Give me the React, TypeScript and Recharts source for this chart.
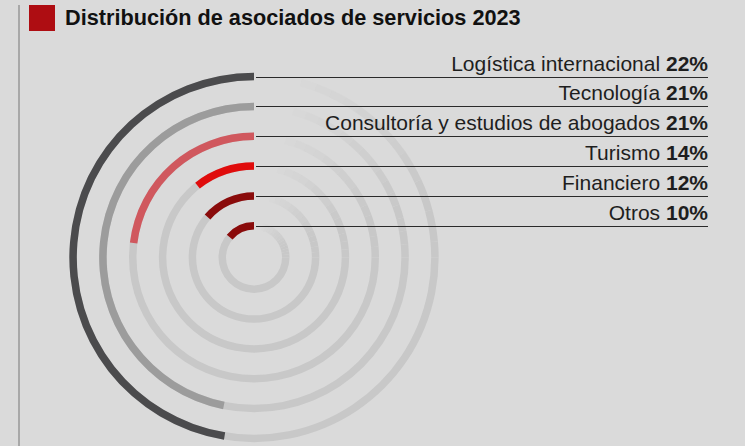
import {
  RadialBarChart, RadialBar, PolarAngleAxis, PolarRadiusAxis,
  Cell, LabelList, Sector
} from 'recharts';

const sectors = [
  'Logística internacional',
  'Tecnología',
  'Consultoría y estudios de abogados',
  'Turismo',
  'Financiero',
  'Otros',
];
const shares = [22, 21, 21, 14, 12, 10];
// how far round the circle each arc is drawn in the original graphic (% of 360°)
const arcDrawn = [47.4, 46.8, 23.1, 10.6, 13.6, 13.9];
const colors = ['#4b4b4d', '#9c9c9c', '#d0585e', '#e00c0c', '#8a0b0b', '#8a0b0b'];

// radius axis runs from the centre outwards, so innermost ring goes first
const data = sectors
  .map((name, i) => ({ name, share: shares[i], arc: arcDrawn[i], color: colors[i] }))
  .reverse();

const TRACK = '#c8c8c8';
const LINE_END = 708;
const FONT = '"Liberation Sans", Arial, Helvetica, sans-serif';

// grey ring (fading out in the upper right quarter) with the coloured arc on top
const renderRing = (p: any) => {
  const base = {
    cx: p.cx, cy: p.cy,
    innerRadius: p.innerRadius, outerRadius: p.outerRadius,
  };
  const pieces = [];
  for (let a = 0; a < 90; a += 5) {
    const op = Math.max(0, Math.min(1, (78 - (a + 2.5)) / 58));
    if (op > 0) {
      pieces.push(
        <Sector key={a} {...base} startAngle={a} endAngle={a + 5} fill={TRACK} fillOpacity={op} />
      );
    }
  }
  return (
    <g>
      <Sector {...base} startAngle={90} endAngle={360} fill={TRACK} />
      {pieces}
      <Sector {...base} startAngle={p.startAngle} endAngle={p.endAngle} fill={p.fill} />
    </g>
  );
};

const renderRowLabel = (p: any) => {
  const vb = p.viewBox;
  if (!vb) return null;
  const i = sectors.indexOf(p.value);
  const y = Math.round(vb.cy - (vb.innerRadius + vb.outerRadius) / 2) + 0.5;
  return (
    <g>
      <line x1={vb.cx + 2} x2={LINE_END} y1={y} y2={y} stroke="#2a2a2a" strokeWidth={1} />
      <text
        x={LINE_END} y={y - 7} textAnchor="end"
        fontFamily={FONT} fontSize={21} fill="#1e1e1e"
      >
        {sectors[i]} <tspan fontWeight="bold">{shares[i]}%</tspan>
      </text>
    </g>
  );
};

export default function App() {
  return (
    <div
      style={{
        position: 'absolute', left: 0, top: 0, width: 745, height: 446,
        background: '#dadada', overflow: 'hidden', fontFamily: FONT,
      }}
    >
      <div style={{ position: 'absolute', left: 18, top: 5, width: 2, height: 441, background: '#a8a8a8' }} />
      <div style={{ position: 'absolute', left: 29, top: 5, width: 26, height: 26, background: '#ae0d12' }} />
      <div
        style={{
          position: 'absolute', left: 65, top: 3, fontSize: 21.7, fontWeight: 'bold',
          color: '#111', whiteSpace: 'nowrap', lineHeight: '30px',
        }}
      >
        Distribución de asociados de servicios 2023
      </div>
      <div style={{ position: 'absolute', left: 0, top: 0 }}>
        <RadialBarChart
          width={745}
          height={446}
          data={data}
          cx={254}
          cy={257.5}
          innerRadius={17}
          outerRadius={196}
          startAngle={90}
          endAngle={450}
          margin={{ top: 0, right: 0, bottom: 0, left: 0 }}
        >
          <PolarAngleAxis type="number" domain={[0, 100]} tick={false} axisLine={false} />
          <PolarRadiusAxis type="category" dataKey="name" tick={false} axisLine={false} />
          <RadialBar
            dataKey="arc"
            barSize={7.5}
            shape={renderRing}
            isAnimationActive={false}
          >
            {data.map((d) => (
              <Cell key={d.name} fill={d.color} />
            ))}
            <LabelList dataKey="name" content={renderRowLabel} />
          </RadialBar>
        </RadialBarChart>
      </div>
    </div>
  );
}
